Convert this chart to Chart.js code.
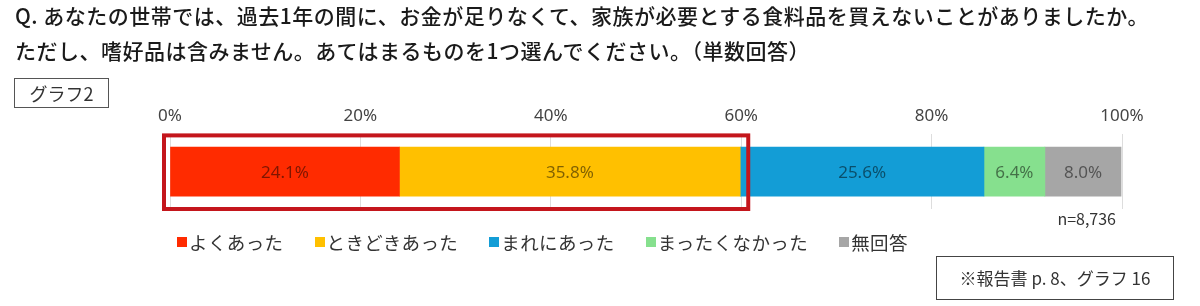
<!DOCTYPE html>
<html lang="ja">
<head>
<meta charset="utf-8">
<script src="https://cdn.jsdelivr.net/npm/chart.js@4.4.1/dist/chart.umd.min.js"></script>
<style>
  html, body { margin: 0; padding: 0; background: #fff; }
  body { width: 1200px; height: 306px; position: relative; overflow: hidden;
         font-family: "Noto Sans CJK JP", "Noto Sans", sans-serif; color: #222; }
  #wrap { position: absolute; left: 0; top: 0; width: 1200px; height: 306px; }
  .title { position: absolute; left: 15px; font-size: 21px; font-weight: 500; letter-spacing: 0.5px;
           white-space: nowrap; line-height: 1; color: #1a1a1a; }
  .tag { position: absolute; left: 14px; top: 78px; width: 95px; height: 30px; border: 1px solid #555;
         box-sizing: border-box; font-size: 18px; text-align: center; line-height: 28px; color: #333; }
  #legend { position: absolute; left: 177px; top: 231px; display: flex; font-size: 18.5px; color: #333;
            line-height: 22px; letter-spacing: 0.4px; }
  #legend span.item { display: flex; align-items: center; margin-right: 31px; white-space: nowrap; }
  #legend i { display: inline-block; width: 10px; height: 10px; margin-right: 2px; }
  .n { position: absolute; right: 84px; top: 206px; font-size: 16px; color: #333; }
  .src { position: absolute; left: 936px; top: 256px; width: 238px; height: 44px; border: 1px solid #444;
         box-sizing: border-box; font-size: 17px; text-align: center; line-height: 42px; color: #333; }
</style>
</head>
<body>
<div id="wrap"><canvas id="chart"></canvas></div>
<div class="title" style="top:5px">Q.&nbsp;あなたの世帯では、過去1年の間に、お金が足りなくて、家族が必要とする食料品を買えないことがありましたか。</div>
<div class="title" style="top:40px">ただし、嗜好品は含みません。あてはまるものを1つ選んでください。（単数回答）</div>
<div class="tag">グラフ2</div>
<div id="legend"></div>
<div class="n">n=8,736</div>
<div class="src">※報告書 p. 8、グラフ 16</div>
<script>
const categories = ["よくあった", "ときどきあった", "まれにあった", "まったくなかった", "無回答"];
const values = [24.1, 35.8, 25.6, 6.4, 8.0];
const colors = ["#FF2B00", "#FFC000", "#139DD6", "#86E08E", "#A6A6A6"];
const tickLabels = ["0%", "20%", "40%", "60%", "80%", "100%"];
const highlightCount = 2; // first two answers are boxed in red

document.addEventListener("DOMContentLoaded", () => {
    // HTML legend from the same arrays
    const legend = document.getElementById("legend");
    categories.forEach((c, i) => {
        const s = document.createElement("span");
        s.className = "item";
        s.innerHTML = '<i style="background:' + colors[i] + '"></i>' + c;
        legend.appendChild(s);
    });

    // value labels inside each segment
    const barLabels = {
        id: "barLabels",
        afterDatasetsDraw(chart) {
            const ctx = chart.ctx;
            ctx.save();
            ctx.font = '17px "Noto Sans", "Noto Sans CJK JP", sans-serif';
            ctx.textAlign = "center";
            ctx.textBaseline = "middle";
            ctx.fillStyle = "rgba(0,0,0,0.5)";
            chart.data.datasets.forEach((ds, i) => {
                chart.getDatasetMeta(i).data.forEach((bar, j) => {
                    const v = ds.data[j];
                    ctx.fillText(v.toFixed(1) + "%", (bar.x + bar.base) / 2, bar.y + 1);
                });
            });
            ctx.restore();
        }
    };

    // red frame around the first answers
    const frame = {
        id: "frame",
        afterDraw(chart) {
            const x = chart.scales.x;
            const area = chart.chartArea;
            const sum = values.slice(0, highlightCount).reduce((a, b) => a + b, 0);
            const left = x.getPixelForValue(0) - 6;
            const right = x.getPixelForValue(sum) + 8;
            const ctx = chart.ctx;
            ctx.save();
            ctx.strokeStyle = "#C4161C";
            ctx.lineWidth = 4;
            ctx.strokeRect(left, area.top + 1, right - left, area.bottom - area.top - 1);
            ctx.restore();
        }
    };

    const ctx = document.getElementById("chart").getContext("2d");
    new Chart(ctx, {
        type: "bar",
        data: {
            labels: [""],
            datasets: categories.map((c, i) => ({
                label: c,
                data: [values[i]],
                backgroundColor: colors[i],
                borderWidth: 0,
                barThickness: 49
            }))
        },
        options: {
            indexAxis: "y",
            responsive: false,
            animation: false,
            layout: { padding: { left: 170, right: 78, top: 98, bottom: 97 } },
            plugins: {
                legend: { display: false },
                tooltip: { enabled: false }
            },
            scales: {
                x: {
                    position: "top",
                    stacked: true,
                    min: 0,
                    max: 100,
                    ticks: {
                        stepSize: 20,
                        padding: 8,
                        color: "#444",
                        font: { size: 17, family: '"Noto Sans", sans-serif' },
                        callback: (v, i) => tickLabels[i]
                    },
                    grid: { color: "#DDDDDD", drawTicks: false },
                    border: { display: false }
                },
                y: {
                    stacked: true,
                    display: false
                }
            }
        },
        plugins: [barLabels, frame]
    });
});
</script>
<script>
document.getElementById("chart").width = 1200;
document.getElementById("chart").height = 306;
</script>
</body>
</html>
